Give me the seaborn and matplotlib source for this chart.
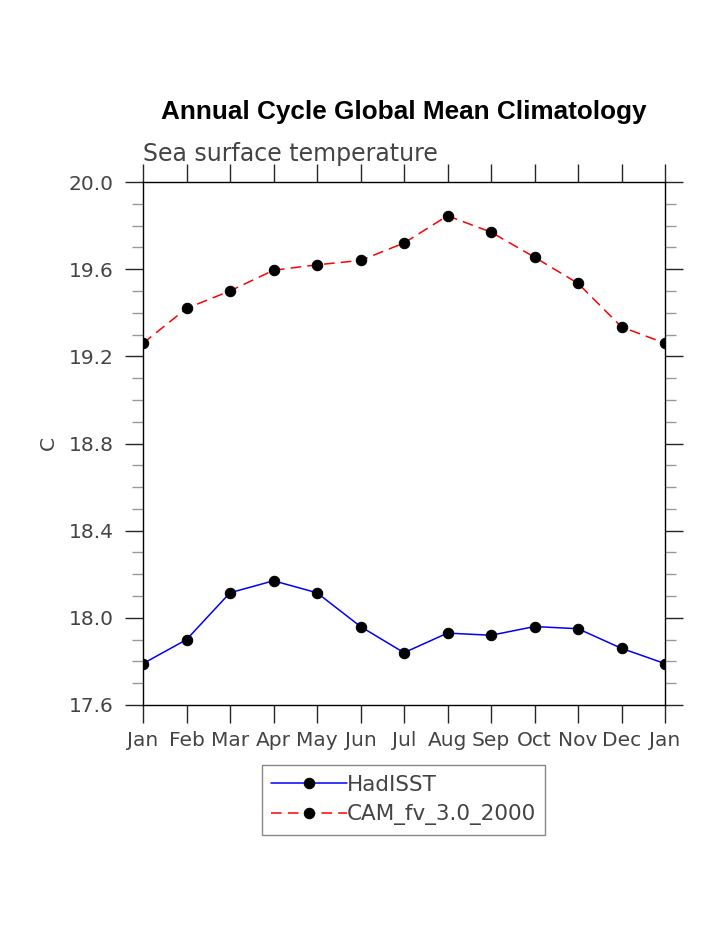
import numpy as np
import pandas as pd
import matplotlib
matplotlib.use("Agg")
import matplotlib.pyplot as plt
import seaborn as sns
from matplotlib.ticker import MultipleLocator

# monthly climatology (Jan repeated at the end to close the cycle)
months = ['Jan', 'Feb', 'Mar', 'Apr', 'May', 'Jun', 'Jul', 'Aug', 'Sep', 'Oct', 'Nov', 'Dec', 'Jan']
hadisst = [17.79, 17.90, 18.115, 18.17, 18.115, 17.96, 17.84, 17.93, 17.92, 17.96, 17.95, 17.86, 17.79]
cam = [19.26, 19.42, 19.50, 19.595, 19.62, 19.64, 19.72, 19.845, 19.77, 19.655, 19.535, 19.335, 19.26]

df = pd.DataFrame({'month': np.arange(len(months)), 'HadISST': hadisst, 'CAM': cam})

sns.set_style('ticks')
plt.rcParams['font.family'] = ['DejaVu Sans']

fig = plt.figure(figsize=(7.23, 9.35), dpi=100)
ax = fig.add_axes([143 / 723, 1 - 705 / 935, 522 / 723, 523 / 935])

sns.lineplot(x='month', y='HadISST', data=df, ax=ax, color='blue', linewidth=1.1,
             marker='o', markersize=7.5, markerfacecolor='black', markeredgecolor='black',
             label='HadISST')
sns.lineplot(x='month', y='CAM', data=df, ax=ax, color='red', linewidth=1.1,
             marker='o', markersize=7.5, markerfacecolor='black', markeredgecolor='black',
             label='CAM_fv_3.0_2000')
ax.lines[1].set_dashes((7, 4))

ax.set_xlim(0, 12)
ax.set_ylim(17.6, 20.0)
ax.set_xticks(df['month'])
ax.set_xticklabels(months)
ax.set_yticks([17.6, 18.0, 18.4, 18.8, 19.2, 19.6, 20.0])
ax.set_yticklabels(['17.6', '18.0', '18.4', '18.8', '19.2', '19.6', '20.0'])
ax.yaxis.set_minor_locator(MultipleLocator(0.1))

for s in ax.spines.values():
    s.set_linewidth(1.0)
    s.set_color('black')
ax.tick_params(axis='both', which='major', direction='out', length=13, width=1.0,
               top=True, right=True, labelsize=14.5, labelcolor='#444444', pad=8)
ax.tick_params(axis='y', which='minor', direction='out', length=8, width=1.0,
               left=True, right=True, color='#999999')
ax.tick_params(axis='x', which='major', pad=6)

ax.set_xlabel('')
ax.set_ylabel('C', fontsize=14.5, color='#444444', labelpad=8)

fig.text(404 / 723, 1 - 112 / 935, 'Annual Cycle Global Mean Climatology',
         ha='center', va='center', fontsize=18.8, fontweight='bold',
         family='Liberation Sans', color='black')
ax.text(0.0, 1.03, 'Sea surface temperature', transform=ax.transAxes,
        ha='left', va='bottom', fontsize=17, color='#444444')

leg = ax.legend(loc='upper center', bbox_to_anchor=(403.5 / 723, 1 - 765 / 935),
                bbox_transform=fig.transFigure, fontsize=15.5, frameon=True, fancybox=False,
                framealpha=1, edgecolor='#888888', handlelength=3.5, handletextpad=0.0,
                borderpad=0.45, labelspacing=0.45, borderaxespad=0)
for t in leg.get_texts():
    t.set_color('#444444')

fig.savefig('out.png', dpi=100)
